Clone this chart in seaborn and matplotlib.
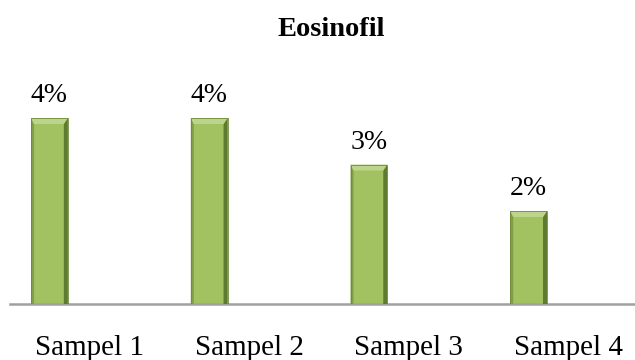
import matplotlib
matplotlib.use("Agg")
import matplotlib.pyplot as plt
from matplotlib.patches import Polygon
import seaborn as sns
import pandas as pd

# Eosinophil percentage per sample
categories = ["Sampel 1", "Sampel 2", "Sampel 3", "Sampel 4"]
values = [4, 4, 3, 2]
value_labels = ["4%", "4%", "3%", "2%"]
title = "Eosinofil"

sns.set_theme(style="white")
plt.rcParams["font.family"] = ["Liberation Serif", "DejaVu Serif"]

df = pd.DataFrame({"sample": categories, "value": values})

W, H = 635, 360
fig = plt.figure(figsize=(W / 100, H / 100), dpi=100)
ax = fig.add_axes([10 / W, 56 / H, 1 - 10 / W, 232.5 / H])

sns.barplot(data=df, x="sample", y="value", color="#A2C262",
            width=0.23, saturation=1, ax=ax, linewidth=0)

ax.set_xlim(-0.247, 3.666)
ax.set_ylim(0, 5)

# bevelled edges on each bar
px_x = 159.7   # pixels per category unit
px_y = 46.5    # pixels per value unit
top_b = 6 / px_y
left_b = 3 / px_x
right_b = 4 / px_x
bars = list(ax.patches)
for p in bars:
    x0, y0 = p.get_x(), p.get_y()
    w, h = p.get_width(), p.get_height()
    x1, y1 = x0 + w, y0 + h
    # left side
    ax.add_patch(Polygon([(x0, y0), (x0 + left_b, y0), (x0 + left_b, y1 - top_b), (x0, y1)],
                         closed=True, facecolor="#819E48", edgecolor="none", zorder=3))
    # right side
    ax.add_patch(Polygon([(x1, y0), (x1 - right_b, y0), (x1 - right_b, y1 - top_b), (x1, y1)],
                         closed=True, facecolor="#5F7B2F", edgecolor="none", zorder=3))
    # top bevel
    ax.add_patch(Polygon([(x0, y1), (x1, y1), (x1 - right_b, y1 - top_b), (x0 + left_b, y1 - top_b)],
                         closed=True, facecolor="#BCD58A", edgecolor="none", zorder=3))
    # thin outline
    ax.add_patch(Polygon([(x0, y0), (x1, y0), (x1, y1), (x0, y1)], closed=True,
                         facecolor="none", edgecolor="#6E8A3A", linewidth=0.6, zorder=4))

# value labels above bars
for p, lab in zip(bars, value_labels):
    ax.text(p.get_x() + p.get_width() / 2, p.get_height() + 0.21, lab,
            ha="center", va="bottom", fontsize=20, color="black")

for s in ["top", "right", "left"]:
    ax.spines[s].set_visible(False)
ax.spines["bottom"].set_color("#A0A0A0")
ax.spines["bottom"].set_linewidth(1.8)

# category labels sit to the right of the bars
ax.set_xticks([i + 0.25 for i in range(len(categories))])
ax.set_xticklabels(categories)
ax.set_yticks([])
ax.set_xlabel("")
ax.set_ylabel("")
ax.tick_params(axis="x", length=0, pad=22, labelsize=21, labelcolor="black")

fig.text(331 / W, 1 - 29 / H, title, ha="center", va="center",
         fontsize=20.5, fontweight="bold", color="black")

fig.savefig("out.png", dpi=100, facecolor="white")
